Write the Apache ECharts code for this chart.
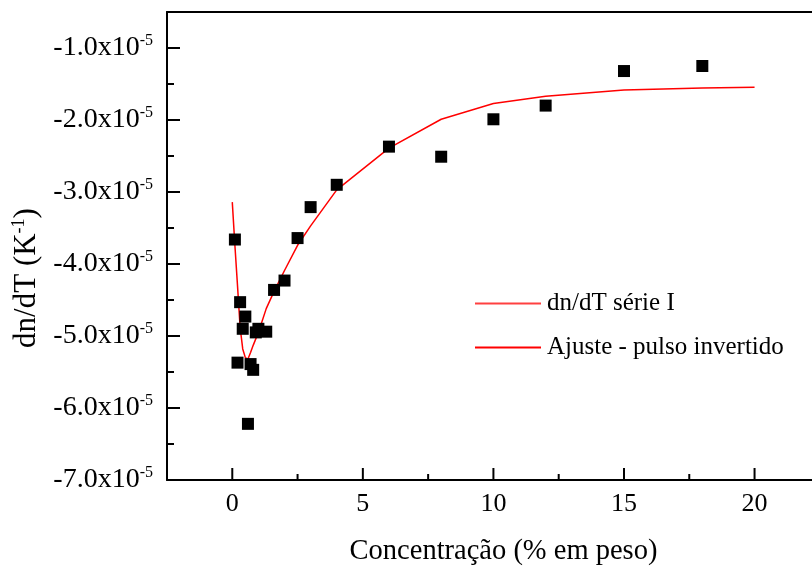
<!DOCTYPE html>
<html><head><meta charset="utf-8">
<script src="https://cdn.jsdelivr.net/npm/echarts@6/dist/echarts.min.js"></script>
<style>html,body{margin:0;padding:0;background:#fff}#c{width:812px;height:571px}</style>
</head><body><div id="c"></div>
<script>
// Measured data: concentration (% em peso) vs dn/dT (K^-1)
const concX = [0.1, 0.2, 0.3, 0.4, 0.5, 0.6, 0.7, 0.8, 0.9, 1.0, 1.3, 1.6, 2.0, 2.5, 3.0, 4.0, 6, 8, 10, 12, 15, 18];
const dndtY = [-3.66e-5, -5.37e-5, -4.53e-5, -4.90e-5, -4.73e-5, -6.22e-5, -5.39e-5, -5.47e-5, -4.95e-5, -4.90e-5, -4.94e-5, -4.36e-5, -4.23e-5, -3.64e-5, -3.21e-5, -2.90e-5, -2.37e-5, -2.51e-5, -1.99e-5, -1.80e-5, -1.32e-5, -1.25e-5];
// Fit curve ("pulso invertido")
const fitX = [0, 0.1, 0.2, 0.3, 0.4, 0.5, 0.6, 0.7, 0.8, 0.9, 1.0, 1.3, 1.6, 2.0, 2.5, 3.0, 4.0, 6, 8, 10, 12, 15, 18, 20];
const fitY = [-3.14e-5, -3.74e-5, -4.30e-5, -4.88e-5, -5.18e-5, -5.30e-5, -5.32e-5, -5.23e-5, -5.13e-5, -5.04e-5, -4.95e-5, -4.62e-5, -4.38e-5, -4.09e-5, -3.74e-5, -3.47e-5, -2.97e-5, -2.39e-5, -1.99e-5, -1.77e-5, -1.67e-5, -1.585e-5, -1.554e-5, -1.545e-5];
// Tick values
const xMajorTicks = [0, 5, 10, 15, 20];
const xMinorTicks = [2.5, 7.5, 12.5, 17.5];
const yMajorTicks = [-7e-5, -6e-5, -5e-5, -4e-5, -3e-5, -2e-5, -1e-5];
const yMinorTicks = [-6.5e-5, -5.5e-5, -4.5e-5, -3.5e-5, -2.5e-5, -1.5e-5];
const seriesNames = ['dn/dT série I', 'Ajuste - pulso invertido'];

const FONT = "'Liberation Serif','Times New Roman',serif";
const pair = (xs, ys) => xs.map((x, i) => [x, ys[i]]);
const XMIN = -2.5, XMAX = 22.2, YMIN = -7e-5, YMAX = -0.5e-5;
const axisLine = { show: true, onZero: false, lineStyle: { color: '#000', width: 2 } };

// Tick marks drawn through the axis scales (api.coord), pointing into the plot,
// on their own canvas layer so nothing covers them
function tickSeries(values, dir, len) {
  const data = values.map(v => (dir === 'x' ? [v, YMIN] : [XMIN, v]));
  return {
    type: 'custom', silent: true, clip: false, zlevel: 1, z: 100, xAxisIndex: 0, yAxisIndex: 0,
    data: data,
    renderItem: (params, api) => {
      const p = api.coord([api.value(0), api.value(1)]);
      const x2 = dir === 'x' ? p[0] : p[0] + len;
      const y2 = dir === 'x' ? p[1] - len : p[1];
      return { type: 'line', shape: { x1: p[0], y1: p[1], x2: x2, y2: y2 }, style: { stroke: '#000', lineWidth: 2 } };
    }
  };
}

const chart = echarts.init(document.getElementById('c'), null, { renderer: 'canvas' });
chart.setOption({
  backgroundColor: '#fff',
  animation: false,
  textStyle: { fontFamily: FONT, color: '#000' },
  grid: { left: 167, top: 12, width: 645, height: 470, containLabel: false },
  legend: {
    left: 475, top: 291, orient: 'vertical', padding: 0,
    itemWidth: 66, itemHeight: 2, itemGap: 19,
    textStyle: { fontFamily: FONT, fontSize: 25, color: '#000', lineHeight: 25, padding: [0, 0, 0, 1] },
    data: [
      { name: seriesNames[0], icon: 'rect', itemStyle: { color: '#ff4040', opacity: 1 } },
      { name: seriesNames[1], icon: 'rect', itemStyle: { color: '#ff0000' } }
    ]
  },
  xAxis: [
    {
      type: 'value', position: 'bottom', min: XMIN, max: XMAX,
      axisLine: axisLine, splitLine: { show: false },
      axisTick: { show: false },
      axisLabel: { show: true, margin: 11, fontFamily: FONT, fontSize: 26, color: '#000', customValues: xMajorTicks },
      name: 'Concentração (% em peso)', nameLocation: 'middle', nameGap: 57,
      nameTextStyle: { fontFamily: FONT, fontSize: 28.5, color: '#000', padding: [0, 0, 0, 28] }
    },
    {
      type: 'value', position: 'top', min: XMIN, max: XMAX,
      axisLine: axisLine, splitLine: { show: false },
      axisTick: { show: false }, axisLabel: { show: false }
    }
  ],
  yAxis: [
    {
      type: 'value', position: 'left', offset: 0, min: YMIN, max: YMAX,
      axisLine: axisLine, splitLine: { show: false },
      axisTick: { show: false },
      axisLabel: {
        show: true, margin: 14, customValues: yMajorTicks,
        formatter: v => '{m|' + (v * 1e5).toFixed(1) + 'x10}{s|-5}',
        rich: {
          m: { fontFamily: FONT, fontSize: 28, color: '#000', lineHeight: 30 },
          s: { fontFamily: FONT, fontSize: 16, color: '#000', verticalAlign: 'top', lineHeight: 16 }
        }
      },
      name: '{m|dn/dT (K}{s|-1}{m|)}', nameLocation: 'middle', nameRotate: 90, nameGap: 120,
      nameTextStyle: {
        padding: [0, 64, 0, 0],
        rich: {
          m: { fontFamily: FONT, fontSize: 31, color: '#000', lineHeight: 34 },
          s: { fontFamily: FONT, fontSize: 18, color: '#000', verticalAlign: 'top', lineHeight: 18 }
        }
      }
    }
  ],
  series: [
    tickSeries(xMajorTicks, 'x', 12),
    tickSeries(xMinorTicks, 'x', 6),
    tickSeries(yMajorTicks, 'y', 13),
    tickSeries(yMinorTicks, 'y', 7),
    {
      name: seriesNames[0], type: 'scatter', xAxisIndex: 0, yAxisIndex: 0,
      symbol: 'rect', symbolSize: 12, itemStyle: { color: '#000', opacity: 1 }, z: 3,
      data: pair(concX, dndtY)
    },
    {
      name: seriesNames[1], type: 'line', xAxisIndex: 0, yAxisIndex: 0,
      showSymbol: false, smooth: false, lineStyle: { color: '#ff0000', width: 1.5 },
      itemStyle: { color: '#ff0000' }, z: 2,
      data: pair(fitX, fitY)
    }
  ]
});
</script>
</body></html>
